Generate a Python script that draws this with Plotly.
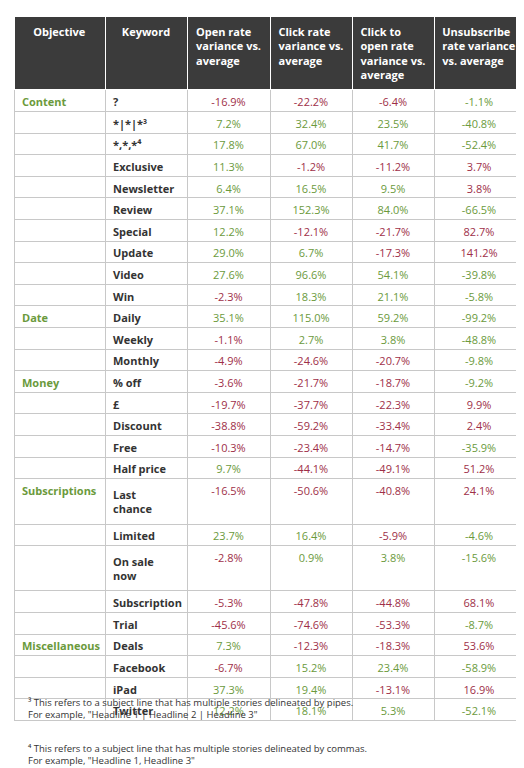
import plotly.graph_objects as go

objective = ["Content", "", "", "", "", "", "", "", "", "",
             "Date", "", "",
             "Money", "", "", "", "",
             "Subscriptions", "", "", "", "",
             "Miscellaneous", "", "", ""]
keyword = ["?", "*|*|*³", "*,*,*⁴", "Exclusive", "Newsletter", "Review", "Special", "Update", "Video", "Win",
           "Daily", "Weekly", "Monthly",
           "% off", "£", "Discount", "Free", "Half price",
           "Last chance", "Limited", "On sale now", "Subscription", "Trial",
           "Deals", "Facebook", "iPad", "Twitter"]
open_rate = [-16.9, 7.2, 17.8, 11.3, 6.4, 37.1, 12.2, 29.0, 27.6, -2.3,
             35.1, -1.1, -4.9,
             -3.6, -19.7, -38.8, -10.3, 9.7,
             -16.5, 23.7, -2.8, -5.3, -45.6,
             7.3, -6.7, 37.3, 12.2]
click_rate = [-22.2, 32.4, 67.0, -1.2, 16.5, 152.3, -12.1, 6.7, 96.6, 18.3,
              115.0, 2.7, -24.6,
              -21.7, -37.7, -59.2, -23.4, -44.1,
              -50.6, 16.4, 0.9, -47.8, -74.6,
              -12.3, 15.2, 19.4, 18.1]
cto_rate = [-6.4, 23.5, 41.7, -11.2, 9.5, 84.0, -21.7, -17.3, 54.1, 21.1,
            59.2, 3.8, -20.7,
            -18.7, -22.3, -33.4, -14.7, -49.1,
            -40.8, -5.9, 3.8, -44.8, -53.3,
            -18.3, 23.4, -13.1, 5.3]
unsub_rate = [-1.1, -40.8, -52.4, 3.7, 3.8, -66.5, 82.7, 141.2, -39.8, -5.8,
              -99.2, -48.8, -9.8,
              -9.2, 9.9, 2.4, -35.9, 51.2,
              24.1, -4.6, -15.6, 68.1, -8.7,
              53.6, -58.9, 16.9, -52.1]
headers = ["<br>Objective", "<br>Keyword", "Open rate<br>variance vs.<br>average", "Click rate<br>variance vs.<br>average",
           "Click to<br>open rate<br>variance vs.<br>average", "Unsubscribe<br>rate variance<br>vs. average"]

GREEN = "#6b9a3c"
RED = "#9e2f48"

def colour(vals, good_positive=True):
    return [GREEN if (v >= 0) == good_positive else RED for v in vals]

def fmt(vals):
    return [f"{v:.1f}%" for v in vals]

fig = go.Figure(go.Table(
    columnwidth=[91, 82, 83, 82, 82, 90],
    header=dict(
        values=headers,
        fill_color="#3b3b3b",
        line=dict(color="#ffffff", width=1),
        font=dict(family="Open Sans", size=11, color="white", weight="bold"),
        align="center", height=65,
    ),
    cells=dict(
        values=[objective, keyword,
                fmt(open_rate), fmt(click_rate), fmt(cto_rate), fmt(unsub_rate)],
        fill_color="white",
        line=dict(color="#c8c8c8", width=1),
        font=dict(family="Open Sans", size=11,
                  weight=["bold", "bold", "normal", "normal", "normal", "normal"],
                  color=[[GREEN] * len(objective), ["#333333"] * len(keyword),
                         colour(open_rate), colour(click_rate), colour(cto_rate),
                         colour(unsub_rate, good_positive=False)]),
        align=["left", "left", "center", "center", "center", "center"],
        height=21.6,
    ),
    domain=dict(x=[6 / 524, 516 / 524], y=[0, 1 - 8 / 768]),
))

notes = [
    (700, "³ This refers to a subject line that has multiple stories delineated by pipes.<br>For example, \"Headline 1 | Headline 2 | Headline 3\""),
    (746, "⁴ This refers to a subject line that has multiple stories delineated by commas.<br>For example, \"Headline 1, Headline 3\""),
]
for y, t in notes:
    fig.add_annotation(text=t, x=18 / 524, y=1 - y / 768, xref="paper", yref="paper",
                       xanchor="left", yanchor="middle", showarrow=False, align="left",
                       font=dict(family="Open Sans", size=9.5, color="#333333"))

fig.update_layout(width=524, height=768, margin=dict(l=0, r=0, t=0, b=0),
                  paper_bgcolor="white")
fig.write_html("out.html")
